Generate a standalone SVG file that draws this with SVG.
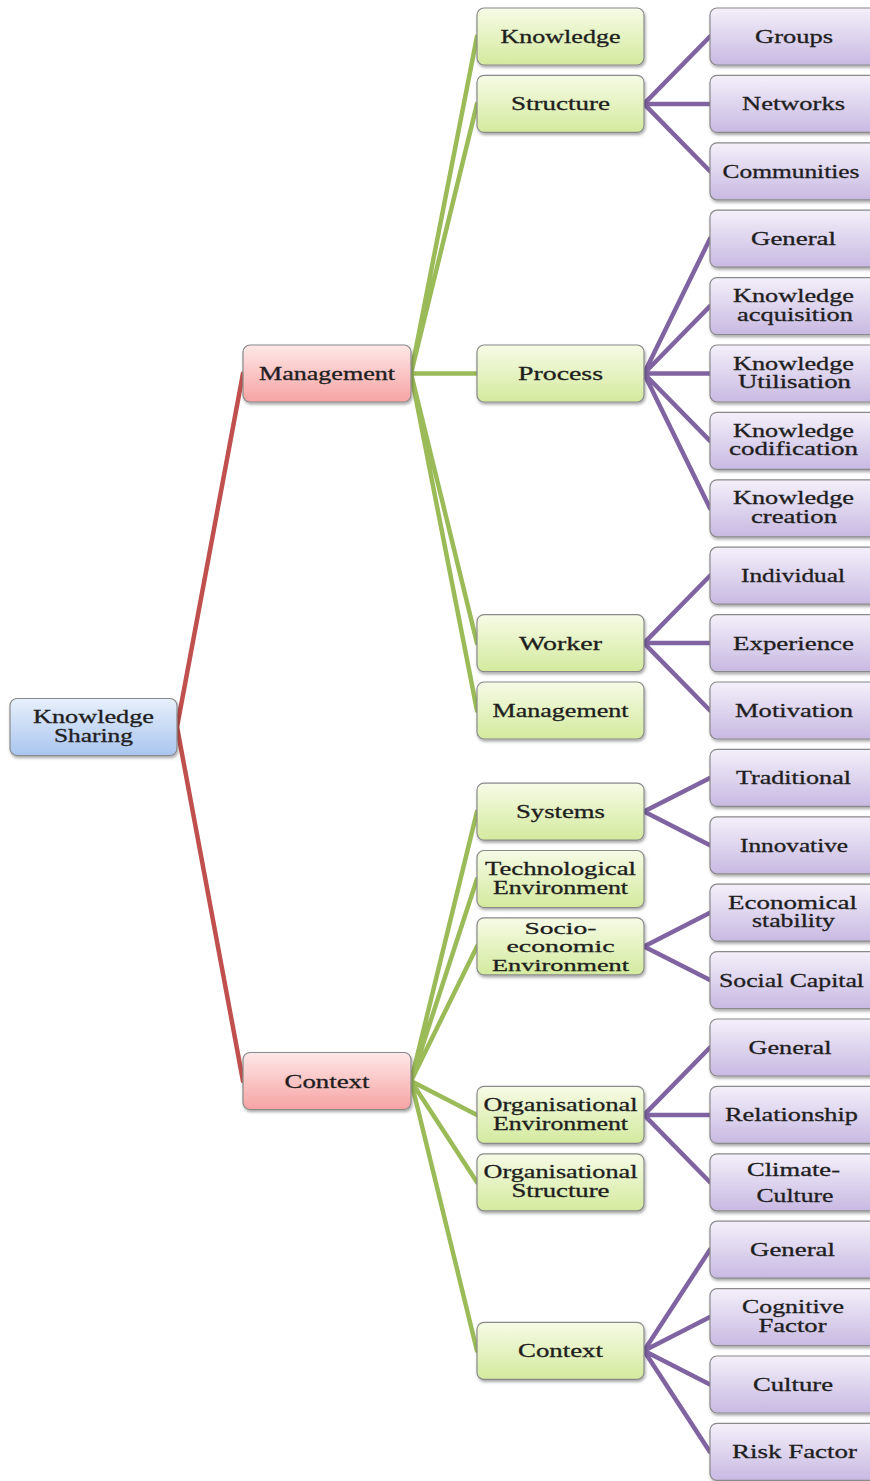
<svg xmlns="http://www.w3.org/2000/svg" width="870" height="1481" viewBox="0 0 870 1481">
<defs>
<linearGradient id="gBlue" x1="0" y1="0" x2="0" y2="1"><stop offset="0" stop-color="#e8f0fb"/><stop offset="1" stop-color="#a9c5ef"/></linearGradient>
<linearGradient id="gPink" x1="0" y1="0" x2="0" y2="1"><stop offset="0" stop-color="#ffe8e8"/><stop offset="1" stop-color="#f6a3a3"/></linearGradient>
<linearGradient id="gGreen" x1="0" y1="0" x2="0" y2="1"><stop offset="0" stop-color="#f6fbe6"/><stop offset="1" stop-color="#d4ea9e"/></linearGradient>
<linearGradient id="gPurple" x1="0" y1="0" x2="0" y2="1"><stop offset="0" stop-color="#f4f0fa"/><stop offset="1" stop-color="#c8b9e2"/></linearGradient>
<filter id="sh" x="-10%" y="-20%" width="120%" height="150%"><feDropShadow dx="1" dy="2" stdDeviation="1.5" flood-color="#000" flood-opacity="0.35"/></filter>
</defs>
<style>
.box{stroke:#8a8a8a;stroke-width:1.2;filter:url(#sh)}
.b0{fill:url(#gBlue)}
.b1{fill:url(#gPink)}
.b2{fill:url(#gGreen)}
.b3{fill:url(#gPurple)}
text{font-family:"Liberation Serif","Times New Roman",serif;font-size:19px;fill:#1e1e1e;stroke:#1e1e1e;stroke-width:0.3;text-anchor:middle}
.sm{font-size:17.5px}
.red{stroke:#c0504d;stroke-width:4.5;fill:none;stroke-linecap:round}
.grn{stroke:#9bbb59;stroke-width:4.5;fill:none;stroke-linecap:round}
.pur{stroke:#8064a2;stroke-width:4.5;fill:none;stroke-linecap:round}
</style>

<g id="connectors">
<path class="red" d="M177 727 L243 373.5 M177 727 L243 1081"/>
<path class="grn" d="M411 373.5 L477 36.5 M411 373.5 L477 103.9 M411 373.5 L477 373.5 M411 373.5 L477 643.1 M411 373.5 L477 710.5"/>
<path class="grn" d="M411 1081 L477 811.6 M411 1081 L477 879 M411 1081 L477 946.4 M411 1081 L477 1114.9 M411 1081 L477 1182.3 M411 1081 L477 1350.8"/>
<path class="pur" d="M644 103.9 L710 36.5 M644 103.9 L710 103.9 M644 103.9 L710 171.3"/>
<path class="pur" d="M644 373.5 L710 238.7 M644 373.5 L710 306.1 M644 373.5 L710 373.5 M644 373.5 L710 440.9 M644 373.5 L710 508.3"/>
<path class="pur" d="M644 643.1 L710 575.7 M644 643.1 L710 643.1 M644 643.1 L710 710.5"/>
<path class="pur" d="M644 811.6 L710 777.9 M644 811.6 L710 845.3"/>
<path class="pur" d="M644 946.4 L710 912.7 M644 946.4 L710 980.1"/>
<path class="pur" d="M644 1114.9 L710 1047.5 M644 1114.9 L710 1114.9 M644 1114.9 L710 1182.3"/>
<path class="pur" d="M644 1350.8 L710 1249.7 M644 1350.8 L710 1317.1 M644 1350.8 L710 1384.5 M644 1350.8 L710 1451.9"/>
</g>

<g id="n-knowledge-sharing"><rect class="box b0" x="10" y="698.5" width="167" height="57" rx="7"/><text x="93.5" y="723" textLength="121" lengthAdjust="spacingAndGlyphs">Knowledge</text><text x="93.5" y="742" textLength="79" lengthAdjust="spacingAndGlyphs">Sharing</text></g>

<g id="n-management"><rect class="box b1" x="243" y="345" width="168" height="57" rx="7"/><text x="327" y="380" textLength="136" lengthAdjust="spacingAndGlyphs">Management</text></g>
<g id="n-context"><rect class="box b1" x="243" y="1052.5" width="168" height="57" rx="7"/><text x="327" y="1087.5" textLength="85" lengthAdjust="spacingAndGlyphs">Context</text></g>

<g id="n-m-knowledge"><rect class="box b2" x="477" y="8" width="167" height="57" rx="7"/><text x="560.5" y="43" textLength="120" lengthAdjust="spacingAndGlyphs">Knowledge</text></g>
<g id="n-m-structure"><rect class="box b2" x="477" y="75.4" width="167" height="57" rx="7"/><text x="560.5" y="110.4" textLength="99" lengthAdjust="spacingAndGlyphs">Structure</text></g>
<g id="n-m-process"><rect class="box b2" x="477" y="345" width="167" height="57" rx="7"/><text x="560.5" y="380" textLength="85" lengthAdjust="spacingAndGlyphs">Process</text></g>
<g id="n-m-worker"><rect class="box b2" x="477" y="614.6" width="167" height="57" rx="7"/><text x="560.5" y="649.6" textLength="83" lengthAdjust="spacingAndGlyphs">Worker</text></g>
<g id="n-m-management"><rect class="box b2" x="477" y="682" width="167" height="57" rx="7"/><text x="560.5" y="717" textLength="136" lengthAdjust="spacingAndGlyphs">Management</text></g>

<g id="n-c-systems"><rect class="box b2" x="477" y="783.1" width="167" height="57" rx="7"/><text x="560.5" y="818.1" textLength="89" lengthAdjust="spacingAndGlyphs">Systems</text></g>
<g id="n-c-tech"><rect class="box b2" x="477" y="850.5" width="167" height="57" rx="7"/><text x="560.5" y="875" textLength="151" lengthAdjust="spacingAndGlyphs">Technological</text><text x="560.5" y="893.5" textLength="135" lengthAdjust="spacingAndGlyphs">Environment</text></g>
<g id="n-c-socio"><rect class="box b2" x="477" y="917.9" width="167" height="57" rx="7"/><text class="sm" x="560.5" y="933.5" textLength="72" lengthAdjust="spacingAndGlyphs">Socio-</text><text class="sm" x="560.5" y="952" textLength="108" lengthAdjust="spacingAndGlyphs">economic</text><text class="sm" x="560.5" y="970.5" textLength="137" lengthAdjust="spacingAndGlyphs">Environment</text></g>
<g id="n-c-orgenv"><rect class="box b2" x="477" y="1086.4" width="167" height="57" rx="7"/><text x="560.5" y="1111" textLength="154" lengthAdjust="spacingAndGlyphs">Organisational</text><text x="560.5" y="1129.5" textLength="135" lengthAdjust="spacingAndGlyphs">Environment</text></g>
<g id="n-c-orgstruct"><rect class="box b2" x="477" y="1153.8" width="167" height="57" rx="7"/><text x="560.5" y="1178.3" textLength="154" lengthAdjust="spacingAndGlyphs">Organisational</text><text x="560.5" y="1196.8" textLength="98" lengthAdjust="spacingAndGlyphs">Structure</text></g>
<g id="n-c-context"><rect class="box b2" x="477" y="1322.3" width="167" height="57" rx="7"/><text x="560.5" y="1357.3" textLength="85" lengthAdjust="spacingAndGlyphs">Context</text></g>

<g id="n-groups"><rect class="box b3" x="710" y="8" width="170" height="57" rx="7"/><text x="794" y="43" textLength="78" lengthAdjust="spacingAndGlyphs">Groups</text></g>
<g id="n-networks"><rect class="box b3" x="710" y="75.4" width="170" height="57" rx="7"/><text x="793.5" y="110.4" textLength="103" lengthAdjust="spacingAndGlyphs">Networks</text></g>
<g id="n-communities"><rect class="box b3" x="710" y="142.8" width="170" height="57" rx="7"/><text x="791" y="177.8" textLength="137" lengthAdjust="spacingAndGlyphs">Communities</text></g>
<g id="n-general1"><rect class="box b3" x="710" y="210.2" width="170" height="57" rx="7"/><text x="793.5" y="245.2" textLength="85" lengthAdjust="spacingAndGlyphs">General</text></g>
<g id="n-kacq"><rect class="box b3" x="710" y="277.6" width="170" height="57" rx="7"/><text x="793.5" y="302" textLength="121" lengthAdjust="spacingAndGlyphs">Knowledge</text><text x="795" y="320.5" textLength="116" lengthAdjust="spacingAndGlyphs">acquisition</text></g>
<g id="n-kutil"><rect class="box b3" x="710" y="345" width="170" height="57" rx="7"/><text x="793.5" y="369.5" textLength="121" lengthAdjust="spacingAndGlyphs">Knowledge</text><text x="794.5" y="388" textLength="113" lengthAdjust="spacingAndGlyphs">Utilisation</text></g>
<g id="n-kcod"><rect class="box b3" x="710" y="412.4" width="170" height="57" rx="7"/><text x="793.5" y="436.9" textLength="121" lengthAdjust="spacingAndGlyphs">Knowledge</text><text x="793.5" y="455.4" textLength="129" lengthAdjust="spacingAndGlyphs">codification</text></g>
<g id="n-kcre"><rect class="box b3" x="710" y="479.8" width="170" height="57" rx="7"/><text x="793.5" y="504.3" textLength="121" lengthAdjust="spacingAndGlyphs">Knowledge</text><text x="794" y="522.8" textLength="86" lengthAdjust="spacingAndGlyphs">creation</text></g>
<g id="n-individual"><rect class="box b3" x="710" y="547.2" width="170" height="57" rx="7"/><text x="793" y="582.2" textLength="104" lengthAdjust="spacingAndGlyphs">Individual</text></g>
<g id="n-experience"><rect class="box b3" x="710" y="614.6" width="170" height="57" rx="7"/><text x="793.5" y="649.6" textLength="121" lengthAdjust="spacingAndGlyphs">Experience</text></g>
<g id="n-motivation"><rect class="box b3" x="710" y="682" width="170" height="57" rx="7"/><text x="794" y="717" textLength="118" lengthAdjust="spacingAndGlyphs">Motivation</text></g>
<g id="n-traditional"><rect class="box b3" x="710" y="749.4" width="170" height="57" rx="7"/><text x="793.5" y="784.4" textLength="115" lengthAdjust="spacingAndGlyphs">Traditional</text></g>
<g id="n-innovative"><rect class="box b3" x="710" y="816.8" width="170" height="57" rx="7"/><text x="794" y="851.8" textLength="108" lengthAdjust="spacingAndGlyphs">Innovative</text></g>
<g id="n-econ"><rect class="box b3" x="710" y="884.2" width="170" height="57" rx="7"/><text x="792.5" y="908.7" textLength="129" lengthAdjust="spacingAndGlyphs">Economical</text><text x="793.5" y="927.2" textLength="83" lengthAdjust="spacingAndGlyphs">stability</text></g>
<g id="n-social"><rect class="box b3" x="710" y="951.6" width="170" height="57" rx="7"/><text x="791.5" y="986.6" textLength="145" lengthAdjust="spacingAndGlyphs">Social Capital</text></g>
<g id="n-general2"><rect class="box b3" x="710" y="1019" width="170" height="57" rx="7"/><text x="790" y="1054" textLength="83" lengthAdjust="spacingAndGlyphs">General</text></g>
<g id="n-relationship"><rect class="box b3" x="710" y="1086.4" width="170" height="57" rx="7"/><text x="791.5" y="1121.4" textLength="133" lengthAdjust="spacingAndGlyphs">Relationship</text></g>
<g id="n-climate"><rect class="box b3" x="710" y="1153.8" width="170" height="57" rx="7"/><text x="793.5" y="1176.3" textLength="93" lengthAdjust="spacingAndGlyphs">Climate-</text><text x="795" y="1202.3" textLength="77" lengthAdjust="spacingAndGlyphs">Culture</text></g>
<g id="n-general3"><rect class="box b3" x="710" y="1221.2" width="170" height="57" rx="7"/><text x="792.5" y="1256.2" textLength="85" lengthAdjust="spacingAndGlyphs">General</text></g>
<g id="n-cognitive"><rect class="box b3" x="710" y="1288.6" width="170" height="57" rx="7"/><text x="793" y="1313.1" textLength="102" lengthAdjust="spacingAndGlyphs">Cognitive</text><text x="792.5" y="1331.6" textLength="68" lengthAdjust="spacingAndGlyphs">Factor</text></g>
<g id="n-culture"><rect class="box b3" x="710" y="1356" width="170" height="57" rx="7"/><text x="793" y="1391" textLength="80" lengthAdjust="spacingAndGlyphs">Culture</text></g>
<g id="n-risk"><rect class="box b3" x="710" y="1423.4" width="170" height="57" rx="7"/><text x="794.5" y="1458.4" textLength="125" lengthAdjust="spacingAndGlyphs">Risk Factor</text></g>
</svg>
